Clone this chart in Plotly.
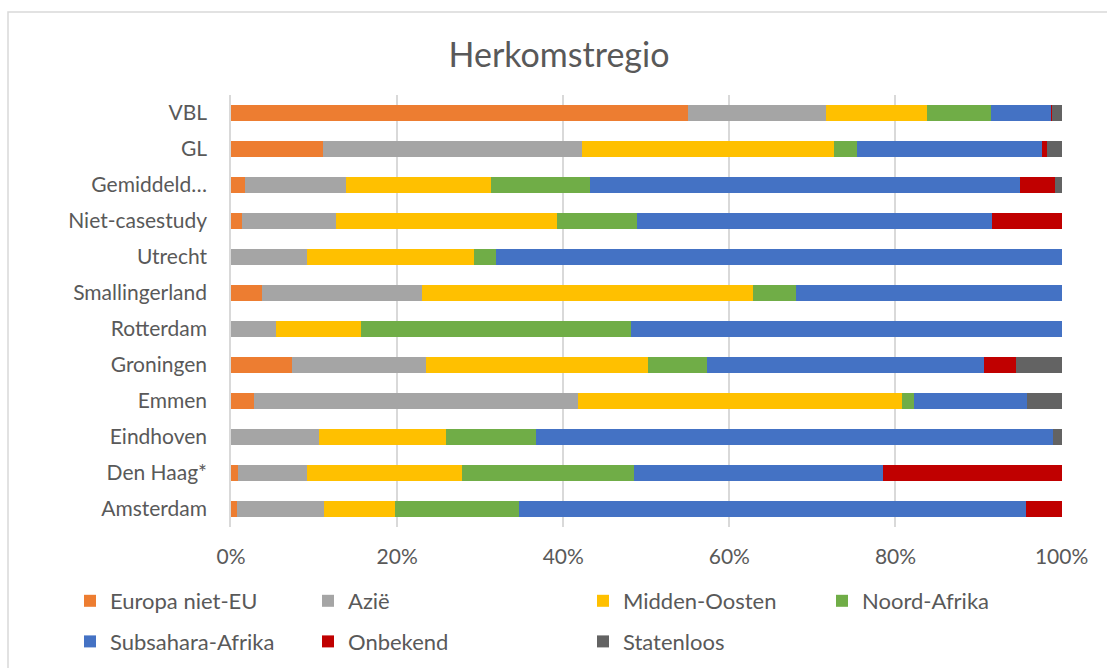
import plotly.graph_objects as go

categories = ["Amsterdam", "Den Haag*", "Eindhoven", "Emmen", "Groningen", "Rotterdam",
              "Smallingerland", "Utrecht", "Niet-casestudy", "Gemiddeld…", "GL", "VBL"]

europa_niet_eu = [0.7, 0.8, 0.0, 2.8, 7.3, 0.0, 3.7, 0.0, 1.3, 1.7, 11.1, 55.0]
azie           = [10.5, 8.3, 10.6, 39.0, 16.2, 5.4, 19.3, 9.1, 11.4, 12.1, 31.2, 16.6]
midden_oosten  = [8.5, 18.7, 15.3, 39.0, 26.7, 10.3, 39.9, 20.1, 26.6, 17.5, 30.3, 12.2]
noord_afrika   = [15.0, 20.7, 10.8, 1.4, 7.1, 32.5, 5.1, 2.7, 9.6, 11.9, 2.8, 7.7]
subsahara      = [61.0, 30.0, 62.3, 13.6, 33.4, 51.8, 32.0, 68.1, 42.7, 51.8, 22.3, 7.3]
onbekend       = [4.3, 21.5, 0.0, 0.0, 3.8, 0.0, 0.0, 0.0, 8.4, 4.2, 0.6, 0.1]
statenloos     = [0.0, 0.0, 1.0, 4.2, 5.5, 0.0, 0.0, 0.0, 0.0, 0.8, 1.7, 1.1]

x_ticks = [0, 20, 40, 60, 80, 100]
x_tick_labels = ["0%", "20%", "40%", "60%", "80%", "100%"]

series = [
    ("Europa niet-EU", europa_niet_eu, "#ED7D31", "legend"),
    ("Azië", azie, "#A5A5A5", "legend2"),
    ("Midden-Oosten", midden_oosten, "#FFC000", "legend3"),
    ("Noord-Afrika", noord_afrika, "#70AD47", "legend4"),
    ("Subsahara-Afrika", subsahara, "#4472C4", "legend"),
    ("Onbekend", onbekend, "#C00000", "legend2"),
    ("Statenloos", statenloos, "#636363", "legend3"),
]

FONT = "Lato"
TXT = "#595959"

fig = go.Figure()
for name, vals, col, lg in series:
    fig.add_trace(go.Bar(
        y=categories, x=vals, name=name, orientation="h",
        marker=dict(color=col, line=dict(width=0)),
        legend=lg, legendgroup=name,
    ))

W, H = 1107, 668
L, R, T, B = 231, 45, 95, 141
pw, ph = W - L - R, H - T - B

def px_x(p):
    return (p - L) / pw

def px_y(p):
    return (H - B - p) / ph

legend_common = dict(orientation="v", yanchor="top", xanchor="left",
                     font=dict(family=FONT, size=22, color=TXT),
                     bgcolor="rgba(0,0,0,0)", borderwidth=0, traceorder="grouped",
                     tracegroupgap=9, itemclick=False, itemdoubleclick=False)
leg_y = px_y(580)

fig.update_layout(
    width=W, height=H,
    margin=dict(l=L, r=R, t=T, b=B, autoexpand=False),
    paper_bgcolor="white", plot_bgcolor="white",
    barmode="stack", bargap=0.58,
    font=dict(family=FONT, color=TXT),
    title=dict(text="Herkomstregio", x=559 / W, xanchor="center",
               y=1 - 55 / H, yanchor="middle", yref="container",
               font=dict(family=FONT, size=34, color=TXT)),
    xaxis=dict(range=[0, 100.05], tickvals=x_ticks, ticktext=x_tick_labels,
               showgrid=True, gridcolor="#D9D9D9", gridwidth=1.5,
               zeroline=False, showline=False, ticks="",
               tickfont=dict(family=FONT, size=21, color=TXT),
               ticklabelstandoff=15, fixedrange=True),
    yaxis=dict(categoryorder="array", categoryarray=categories,
               showgrid=False, zeroline=False, showline=True,
               linecolor="#D9D9D9", linewidth=1.5, ticks="",
               tickfont=dict(family=FONT, size=21, color=TXT),
               ticklabelstandoff=18, fixedrange=True),
    legend=dict(x=px_x(70), y=leg_y, **legend_common),
    legend2=dict(x=px_x(308), y=leg_y, **legend_common),
    legend3=dict(x=px_x(583), y=leg_y, **legend_common),
    legend4=dict(x=px_x(822), y=leg_y, **legend_common),
    shapes=[dict(type="rect", xref="paper", yref="paper",
                 x0=px_x(8), x1=px_x(1300), y0=px_y(900), y1=px_y(12),
                 line=dict(color="#D9D9D9", width=1.5), fillcolor="rgba(0,0,0,0)",
                 layer="below")],
)

fig.write_html("out.html", config={"displayModeBar": False},
               post_script="document.body.style.margin='0';")
